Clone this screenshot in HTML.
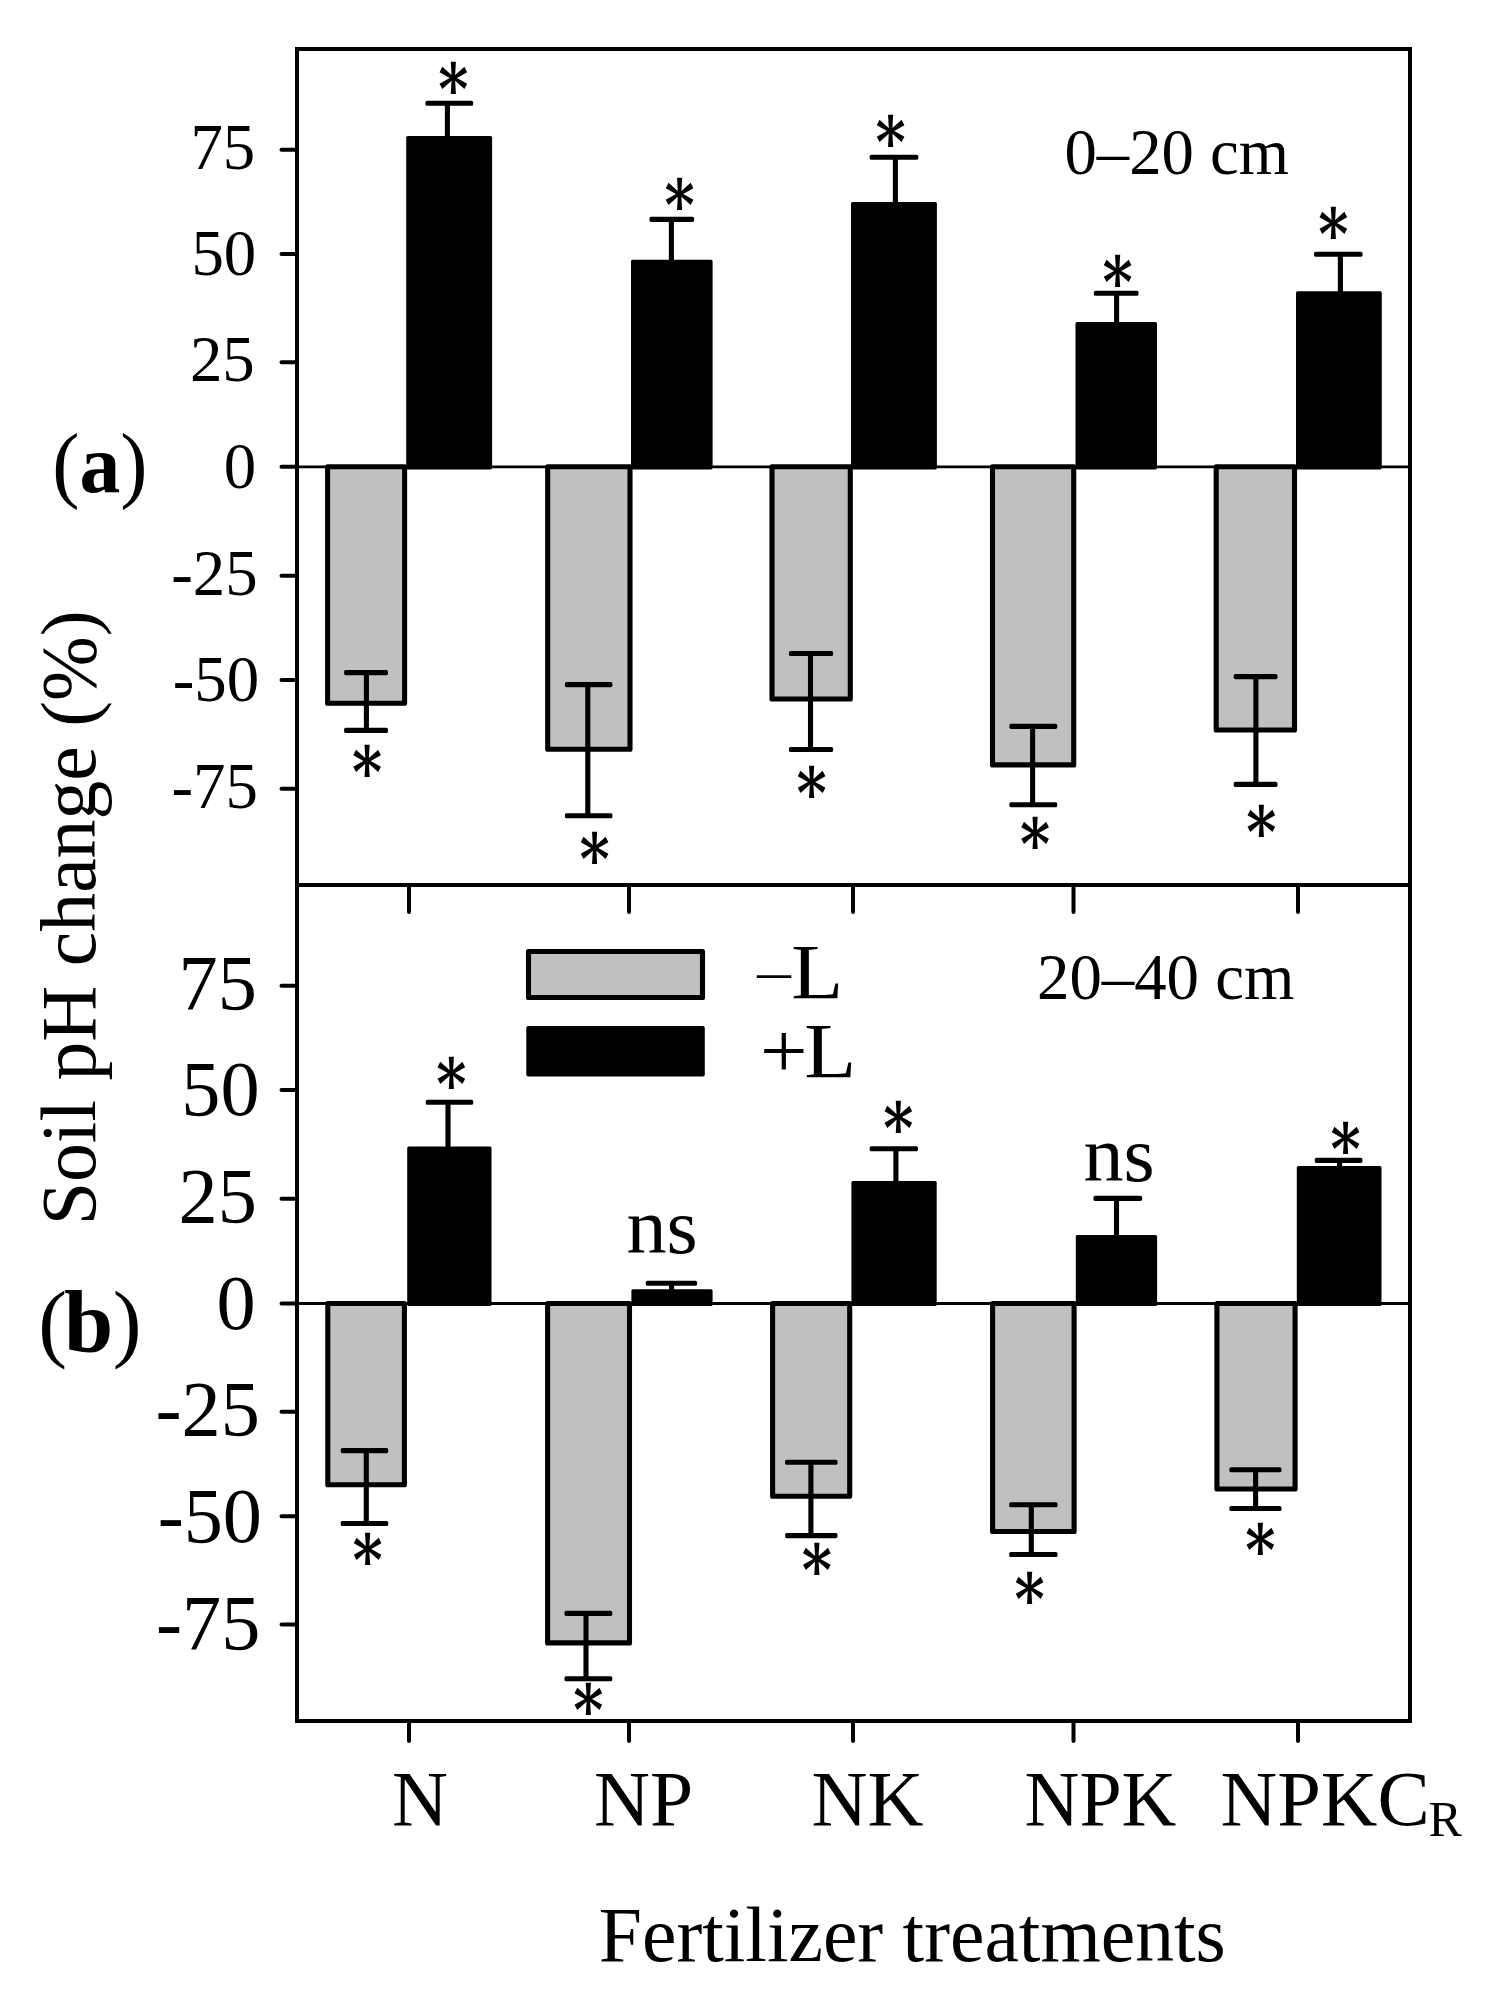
<!DOCTYPE html>
<html lang="en">
<head>
<meta charset="utf-8">
<title>Soil pH change by fertilizer treatment</title>
<style>
html,body{margin:0;padding:0;background:#fff}
body{width:1495px;height:2013px;overflow:hidden}
svg{display:block}
</style>
</head>
<body>
<svg width="1495" height="2013" viewBox="0 0 1495 2013" font-family='"Liberation Serif", serif' fill="#000">
<rect x="0" y="0" width="1495" height="2013" fill="#fff"/>
<g id="panel-a-bars">
<rect x="327.6" y="466.8" width="77.0" height="236.5" fill="#c0c0c0" stroke="#000" stroke-width="5.1" stroke-linejoin="round"/>
<rect x="547.7" y="466.8" width="82.3" height="282.4" fill="#c0c0c0" stroke="#000" stroke-width="5.1" stroke-linejoin="round"/>
<rect x="772.0" y="466.8" width="78.3" height="232.2" fill="#c0c0c0" stroke="#000" stroke-width="5.1" stroke-linejoin="round"/>
<rect x="992.5" y="466.8" width="81.2" height="298.1" fill="#c0c0c0" stroke="#000" stroke-width="5.1" stroke-linejoin="round"/>
<rect x="1216.2" y="466.8" width="78.3" height="263.2" fill="#c0c0c0" stroke="#000" stroke-width="5.1" stroke-linejoin="round"/>
<rect x="406.2" y="135.9" width="85.9" height="333.5" fill="#000" rx="1.6"/>
<rect x="631.0" y="259.8" width="81.6" height="209.6" fill="#000" rx="1.6"/>
<rect x="851.0" y="202.0" width="85.9" height="267.4" fill="#000" rx="1.6"/>
<rect x="1075.5" y="322.0" width="81.5" height="147.4" fill="#000" rx="1.6"/>
<rect x="1296.0" y="291.3" width="85.8" height="178.1" fill="#000" rx="1.6"/>
<rect x="344.1" y="670.05" width="43.9" height="5.1" rx="1.6"/><rect x="344.1" y="727.85" width="43.9" height="5.1" rx="1.6"/><path d="M366.4 672.6V730.4" fill="none" stroke="#000" stroke-width="5.1"/>
<rect x="564.9" y="682.05" width="47.5" height="5.1" rx="1.6"/><rect x="564.9" y="813.15" width="47.5" height="5.1" rx="1.6"/><path d="M587.8 684.6V815.7" fill="none" stroke="#000" stroke-width="5.1"/>
<rect x="789.0" y="650.95" width="44.1" height="5.1" rx="1.6"/><rect x="789.0" y="746.95" width="44.1" height="5.1" rx="1.6"/><path d="M810.5 653.5V749.5" fill="none" stroke="#000" stroke-width="5.1"/>
<rect x="1009.4" y="723.85" width="47.8" height="5.1" rx="1.6"/><rect x="1009.4" y="802.15" width="47.8" height="5.1" rx="1.6"/><path d="M1032.6 726.4V804.7" fill="none" stroke="#000" stroke-width="5.1"/>
<rect x="1233.7" y="674.05" width="43.8" height="5.1" rx="1.6"/><rect x="1233.7" y="781.85" width="43.8" height="5.1" rx="1.6"/><path d="M1255.9 676.6V784.4" fill="none" stroke="#000" stroke-width="5.1"/>
<rect x="425.5" y="100.75" width="47.6" height="5.1" rx="1.6"/><path d="M447.4 103.3V136.9" fill="none" stroke="#000" stroke-width="5.1"/>
<rect x="649.5" y="216.85" width="44.6" height="5.1" rx="1.6"/><path d="M671.4 219.4V260.8" fill="none" stroke="#000" stroke-width="5.1"/>
<rect x="869.7" y="154.75" width="48.6" height="5.1" rx="1.6"/><path d="M895.4 157.3V203.0" fill="none" stroke="#000" stroke-width="5.1"/>
<rect x="1093.9" y="290.65" width="44.6" height="5.1" rx="1.6"/><path d="M1116.6 293.2V323.0" fill="none" stroke="#000" stroke-width="5.1"/>
<rect x="1314.1" y="251.65" width="48.4" height="5.1" rx="1.6"/><path d="M1340.4 254.2V292.3" fill="none" stroke="#000" stroke-width="5.1"/>
</g>
<g id="panel-b-bars">
<rect x="327.8" y="1303.5" width="76.6" height="181.2" fill="#c0c0c0" stroke="#000" stroke-width="5.1" stroke-linejoin="round"/>
<rect x="547.6" y="1303.5" width="81.9" height="339.4" fill="#c0c0c0" stroke="#000" stroke-width="5.1" stroke-linejoin="round"/>
<rect x="772.6" y="1303.5" width="77.1" height="192.7" fill="#c0c0c0" stroke="#000" stroke-width="5.1" stroke-linejoin="round"/>
<rect x="992.6" y="1303.5" width="81.5" height="228.0" fill="#c0c0c0" stroke="#000" stroke-width="5.1" stroke-linejoin="round"/>
<rect x="1216.9" y="1303.5" width="78.2" height="185.5" fill="#c0c0c0" stroke="#000" stroke-width="5.1" stroke-linejoin="round"/>
<rect x="407.2" y="1146.5" width="84.3" height="159.6" fill="#000" rx="1.6"/>
<rect x="631.4" y="1289.2" width="81.2" height="16.9" fill="#000" rx="1.6"/>
<rect x="851.4" y="1180.9" width="85.3" height="125.2" fill="#000" rx="1.6"/>
<rect x="1075.8" y="1235.0" width="81.3" height="71.1" fill="#000" rx="1.6"/>
<rect x="1296.8" y="1165.9" width="84.7" height="140.2" fill="#000" rx="1.6"/>
<rect x="340.7" y="1448.05" width="47.5" height="5.1" rx="1.6"/><rect x="340.7" y="1520.95" width="47.5" height="5.1" rx="1.6"/><path d="M366.3 1450.6V1523.5" fill="none" stroke="#000" stroke-width="5.1"/>
<rect x="564.5" y="1610.85" width="47.8" height="5.1" rx="1.6"/><rect x="564.5" y="1676.15" width="47.8" height="5.1" rx="1.6"/><path d="M586.0 1613.4V1678.7" fill="none" stroke="#000" stroke-width="5.1"/>
<rect x="785.1" y="1459.75" width="52.4" height="5.1" rx="1.6"/><rect x="785.1" y="1533.05" width="52.4" height="5.1" rx="1.6"/><path d="M810.9 1462.3V1535.6" fill="none" stroke="#000" stroke-width="5.1"/>
<rect x="1009.2" y="1502.25" width="48.3" height="5.1" rx="1.6"/><rect x="1009.2" y="1551.95" width="48.3" height="5.1" rx="1.6"/><path d="M1031.3 1504.8V1554.5" fill="none" stroke="#000" stroke-width="5.1"/>
<rect x="1229.4" y="1467.25" width="52.1" height="5.1" rx="1.6"/><rect x="1229.4" y="1505.95" width="52.1" height="5.1" rx="1.6"/><path d="M1255.6 1469.8V1508.5" fill="none" stroke="#000" stroke-width="5.1"/>
<rect x="425.8" y="1099.75" width="47.4" height="5.1" rx="1.6"/><path d="M448.0 1102.3V1147.5" fill="none" stroke="#000" stroke-width="5.1"/>
<rect x="645.8" y="1280.75" width="51.2" height="5.1" rx="1.6"/><path d="M671.6 1283.3V1290.2" fill="none" stroke="#000" stroke-width="5.1"/>
<rect x="869.7" y="1146.15" width="48.3" height="5.1" rx="1.6"/><path d="M895.9 1148.7V1181.9" fill="none" stroke="#000" stroke-width="5.1"/>
<rect x="1093.5" y="1195.85" width="48.6" height="5.1" rx="1.6"/><path d="M1116.5 1198.4V1236.0" fill="none" stroke="#000" stroke-width="5.1"/>
<rect x="1314.8" y="1157.85" width="47.6" height="5.1" rx="1.6"/><path d="M1339.6 1160.4V1166.9" fill="none" stroke="#000" stroke-width="5.1"/>
</g>
<g id="axes">
<rect x="297.0" y="49.0" width="1113.0" height="1672.0" fill="none" stroke="#000" stroke-width="4.0"/>
<path d="M297.0 885.0H1410.0" stroke="#000" stroke-width="4.0" fill="none"/>
<path d="M297.0 466.8H1410.0M297.0 1303.5H1410.0" stroke="#000" stroke-width="2.8" fill="none"/>
<path d="M281.5 149.7H297.0M281.5 254.0H297.0M281.5 362.3H297.0M281.5 466.8H297.0M281.5 575.8H297.0M281.5 680.0H297.0M281.5 788.7H297.0M281.5 985.7H297.0M281.5 1090.0H297.0M281.5 1198.8H297.0M281.5 1303.5H297.0M281.5 1411.8H297.0M281.5 1516.3H297.0M281.5 1624.4H297.0M409.0 885.0V912M409.0 1721.0V1741M629.0 885.0V912M629.0 1721.0V1741M853.0 885.0V912M853.0 1721.0V1741M1073.5 885.0V912M1073.5 1721.0V1741M1298.0 885.0V912M1298.0 1721.0V1741" stroke="#000" stroke-width="4" stroke-linecap="round" fill="none"/>
</g>
<g id="ytick-labels" text-anchor="end">
<text x="255.3" y="168.8" font-size="64.9">75</text>
<text x="256.3" y="274.7" font-size="64.9">50</text>
<text x="254.8" y="381.4" font-size="64.9">25</text>
<text x="256.2" y="488.4" font-size="64.9">0</text>
<text x="257.7" y="594.7" font-size="64.9">-25</text>
<text x="259.2" y="701.2" font-size="64.9">-50</text>
<text x="257.9" y="808.0" font-size="64.9">-75</text>
<text x="256.9" y="1008.7" font-size="78.3">75</text>
<text x="259.6" y="1115.3" font-size="78.3">50</text>
<text x="256.8" y="1222.0" font-size="78.3">25</text>
<text x="255.6" y="1328.6" font-size="78.3">0</text>
<text x="259.9" y="1435.2" font-size="78.3">-25</text>
<text x="262.0" y="1541.8" font-size="78.3">-50</text>
<text x="260.4" y="1648.5" font-size="78.3">-75</text>
</g>
<g id="significance" font-family='"DejaVu Serif", serif' font-weight="bold" font-size="66">
<text transform="translate(453.3 77.8) scale(0.875 1.04)" x="-17.2" y="33.7">*</text>
<text transform="translate(679.5 193.5) scale(0.875 1.04)" x="-17.2" y="33.7">*</text>
<text transform="translate(890.6 130.8) scale(0.875 1.04)" x="-17.2" y="33.7">*</text>
<text transform="translate(1117.5 270.8) scale(0.875 1.04)" x="-17.2" y="33.7">*</text>
<text transform="translate(1333.4 222.8) scale(0.875 1.04)" x="-17.2" y="33.7">*</text>
<text transform="translate(367.0 760.9) scale(0.875 1.04)" x="-17.2" y="33.7">*</text>
<text transform="translate(594.5 848.2) scale(0.875 1.04)" x="-17.2" y="33.7">*</text>
<text transform="translate(811.5 781.8) scale(0.875 1.04)" x="-17.2" y="33.7">*</text>
<text transform="translate(1035.0 833.0) scale(0.875 1.04)" x="-17.2" y="33.7">*</text>
<text transform="translate(1261.4 820.6) scale(0.875 1.04)" x="-17.2" y="33.7">*</text>
<text transform="translate(451.3 1072.7) scale(0.875 1.04)" x="-17.2" y="33.7">*</text>
<text transform="translate(898.3 1116.8) scale(0.875 1.04)" x="-17.2" y="33.7">*</text>
<text transform="translate(1345.5 1137.5) scale(0.875 1.04)" x="-17.2" y="33.7">*</text>
<text transform="translate(367.6 1548.8) scale(0.875 1.04)" x="-17.2" y="33.7">*</text>
<text transform="translate(588.4 1699.4) scale(0.875 1.04)" x="-17.2" y="33.7">*</text>
<text transform="translate(816.8 1558.9) scale(0.875 1.04)" x="-17.2" y="33.7">*</text>
<text transform="translate(1029.6 1588.0) scale(0.875 1.04)" x="-17.2" y="33.7">*</text>
<text transform="translate(1260.4 1539.0) scale(0.875 1.04)" x="-17.2" y="33.7">*</text>
</g>
<text x="626.6" y="1253.0" font-size="77.5" textLength="71.2" lengthAdjust="spacingAndGlyphs">ns</text>
<text x="1083.6" y="1180.5" font-size="77.5" textLength="71.2" lengthAdjust="spacingAndGlyphs">ns</text>
<text x="1064.5" y="174.1" font-size="64.7">0–20 cm</text>
<text x="1037" y="998.7" font-size="64.8">20–40 cm</text>
<rect x="528.5" y="951.5" width="174" height="46" fill="#c0c0c0" stroke="#000" stroke-width="5.1" stroke-linejoin="round"/>
<rect x="526.3" y="1026" width="178.5" height="50.6" fill="#000" rx="2"/>
<text font-size="78"><tspan x="757.2" y="989.3" font-size="54" textLength="33.6" lengthAdjust="spacingAndGlyphs">–</tspan><tspan x="791.2" y="997.9" textLength="52" lengthAdjust="spacingAndGlyphs">L</tspan></text>
<text font-size="78"><tspan x="760.0" y="1076.8" textLength="47.6" lengthAdjust="spacingAndGlyphs">+</tspan><tspan x="804.3" y="1076.8" textLength="52" lengthAdjust="spacingAndGlyphs">L</tspan></text>
<text x="52.2" y="491.9" font-size="85.4" textLength="95.2" lengthAdjust="spacingAndGlyphs">(<tspan font-weight="bold">a</tspan>)</text>
<text y="1351.2" font-size="86.5"><tspan x="38.2">(</tspan><tspan x="64.1" y="1351.8" font-size="88.5" font-weight="bold">b</tspan><tspan x="112.8" y="1351.2">)</tspan></text>
<text x="392" y="1825" font-size="77.5">N</text>
<text x="594" y="1825" font-size="77.5">NP</text>
<text x="811.5" y="1825" font-size="77.5">NK</text>
<text x="1024.6" y="1825" font-size="77.5" textLength="151.8" lengthAdjust="spacingAndGlyphs">NPK</text>
<text font-size="77.5"><tspan x="1220.6" y="1825" textLength="209.2" lengthAdjust="spacingAndGlyphs">NPKC</tspan><tspan x="1428.6" y="1835.8" font-size="50">R</tspan></text>
<text x="598.8" y="1960.8" font-size="77.6">Fertilizer treatments</text>
<text transform="translate(94.6 1225.2) rotate(-90)" x="0" y="0" font-size="77.7">Soil pH change (%)</text>
</svg>
</body>
</html>
